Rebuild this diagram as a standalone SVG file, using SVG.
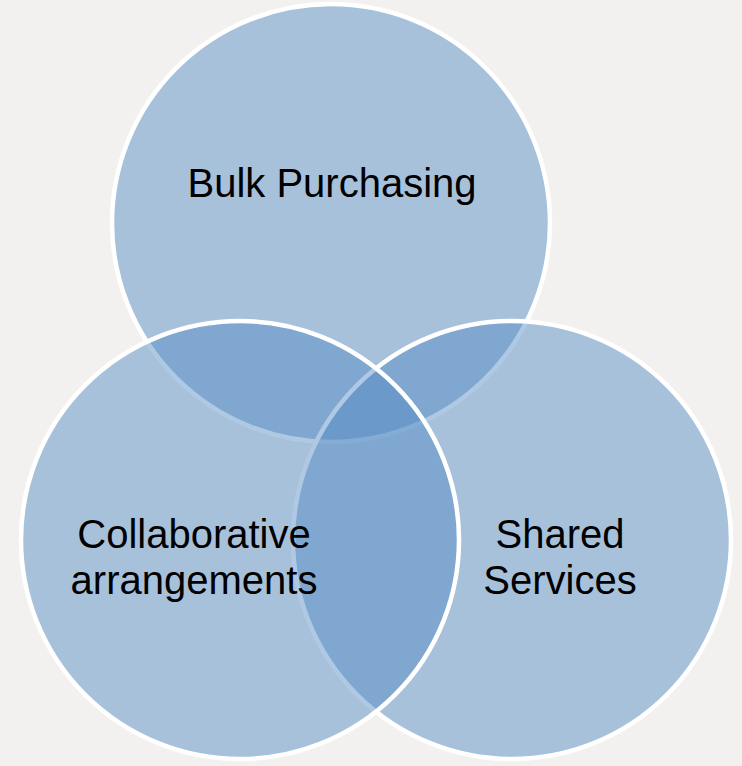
<svg xmlns="http://www.w3.org/2000/svg" width="742" height="766" viewBox="0 0 742 766">
<style>
.c{fill:#518ac5;fill-opacity:0.46;stroke:#ffffff;stroke-width:4.5}
.t{font-family:"Liberation Sans",Arial,sans-serif;font-size:40px;fill:#000;text-anchor:middle}
</style>
<rect x="0" y="0" width="742" height="766" fill="#f2f1ef"/>
<g id="bulk-purchasing">
<circle class="c" cx="331" cy="223" r="219"/>
<text class="t" x="332" y="197">Bulk Purchasing</text>
</g>
<g id="shared-services">
<circle class="c" cx="512" cy="540" r="219"/>
<text class="t"><tspan x="560" y="548">Shared</tspan><tspan x="560" y="594">Services</tspan></text>
</g>
<g id="collaborative-arrangements">
<circle class="c" cx="240" cy="540" r="219"/>
<text class="t"><tspan x="194" y="548">Collaborative</tspan><tspan x="194" y="594">arrangements</tspan></text>
</g>
<g id="connectors"></g>
</svg>
